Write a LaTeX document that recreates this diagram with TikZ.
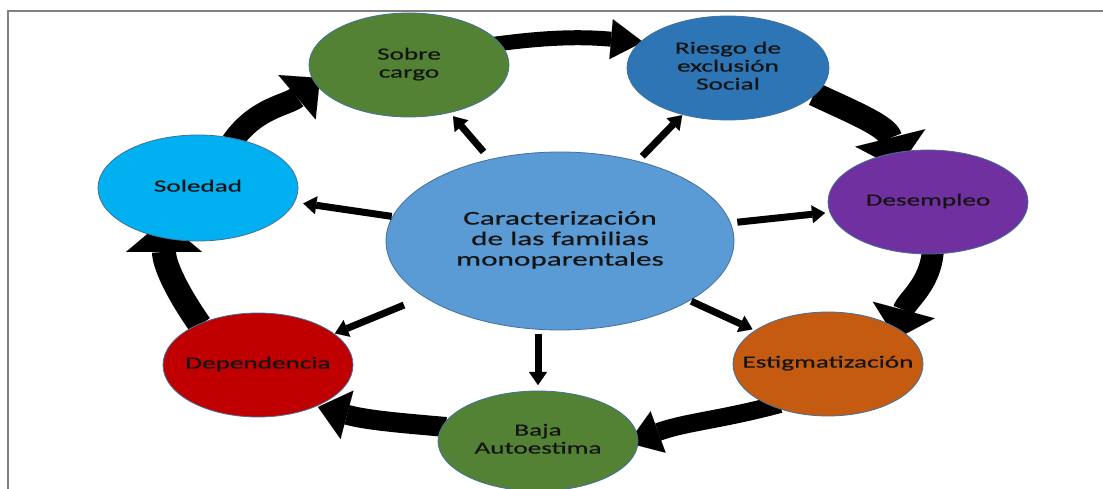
\documentclass[tikz,border=0pt]{standalone}
\usepackage{fontspec}
\setmainfont{Carlito}
\newfontfamily\nfont[FakeStretch=1.6,FakeBold=0.6]{Carlito}
\usetikzlibrary{arrows.meta,shapes.geometric,calc,backgrounds}
\definecolor{grn}{HTML}{548235}
\definecolor{riesgo}{HTML}{2E75B6}
\definecolor{purp}{HTML}{7030A0}
\definecolor{orng}{HTML}{C55A11}
\definecolor{dred}{HTML}{C00000}
\definecolor{cyanb}{HTML}{00B0F0}
\definecolor{centb}{HTML}{5B9BD5}
\definecolor{outl}{HTML}{41719C}
\definecolor{txt}{HTML}{141414}
\definecolor{framec}{HTML}{808080}
\newcommand\ztxt[1]{\makebox[0pt][c]{\begin{tabular}{@{}c@{}}#1\end{tabular}}}
\tikzset{
  ell/.style={ellipse, draw=outl, line width=0.8pt, inner sep=0pt, outer sep=0pt,
    font=\nfont\fontsize{17}{18}\selectfont, text=txt},
  cyc/.style n args={3}{line width=#1pt, draw=black,
    -{Triangle[width=#2pt,length=#3pt,line width=0.01pt]}},
  radial/.style={line width=7pt, draw=black,
    -{Triangle[width=18pt,length=13pt,line width=0.01pt]}}
}
\begin{document}
\begin{tikzpicture}[x=1pt,y=1pt]
\useasboundingbox (0,0) rectangle (1103,489);
% nodes
\node[ell, fill=centb, minimum width=348pt, minimum height=178pt,
  font=\nfont\fontsize{19.5}{20.5}\selectfont] (c) at (560,248)
  {\ztxt{Caracterización\\de las familias\\monoparentales}};
\node[ell, fill=grn, minimum width=200pt, minimum height=104pt] (sob) at (409,424) {\ztxt{Sobre\\cargo}};
\node[ell, fill=riesgo, minimum width=202pt, minimum height=104pt] (ri) at (728,421) {\ztxt{Riesgo de\\exclusión\\Social}};
\node[ell, fill=purp, minimum width=200pt, minimum height=104pt] (de) at (928,287) {\ztxt{Desempleo}};
\node[ell, fill=orng, minimum width=190pt, minimum height=104pt] (es) at (828,125) {\ztxt{Estigmatización}};
\node[ell, fill=grn, minimum width=200pt, minimum height=100pt] (ba) at (538,48) {\ztxt{Baja\\Autoestima}};
\node[ell, fill=dred, minimum width=190pt, minimum height=104pt] (dep) at (258,124) {\ztxt{Dependencia}};
\node[ell, fill=cyanb, minimum width=200pt, minimum height=106pt] (sol) at (198,301) {\ztxt{Soledad}};
% cycle arrows (behind nodes)
\begin{pgfonlayer}{background}
\draw[framec, line width=2pt] (1103,477.5) -- (7.5,477.5) -- (7.5,0);
\draw[cyc={22}{58}{30}] ($(sol)+(34,46)$) to[out=55,in=220] ($(sob)+(-89,-13)$);
\draw[cyc={15}{40}{32}] ($(sob)+(80,20)$) to[out=8,in=175] ($(ri)+(-85,26)$);
\draw[cyc={24}{72}{32}] ($(ri)+(86,-26)$) to[out=-25,in=104] ($(de)+(-30,33)$);
\draw[cyc={22}{64}{30}] ($(de)+(5,-40)$) to[out=-88,in=75] ($(es)+(68,25)$);
\draw[cyc={18}{44}{32}] ($(es)+(-48,-40)$) to[out=195,in=20] ($(ba)+(90,-2)$);
\draw[cyc={20}{50}{30}] ($(ba)+(-92,14)$) to[out=175,in=-15] ($(dep)+(60,-42)$);
\draw[cyc={24}{76}{32}] ($(dep)+(-58,40)$) to[out=125,in=270] ($(sol)+(-34,-32)$);
\end{pgfonlayer}
% radial arrows
\draw[radial, shorten <=10pt, shorten >=5pt] (c) -- (sob);
\draw[radial, shorten <=7pt, shorten >=1pt] (c) -- (ri);
\draw[radial, shorten <=7pt, shorten >=5pt] (c) -- (de);
\draw[radial, shorten <=2pt, shorten >=3pt] (c) -- (es);
\draw[radial, shorten <=4pt, shorten >=6pt] (ba |- c.south) -- (ba.north);
\draw[radial, shorten <=22pt, shorten >=1pt] (c) -- (dep);
\draw[radial, shorten <=1pt, shorten >=9pt] (c) -- (sol);
\end{tikzpicture}
\end{document}
